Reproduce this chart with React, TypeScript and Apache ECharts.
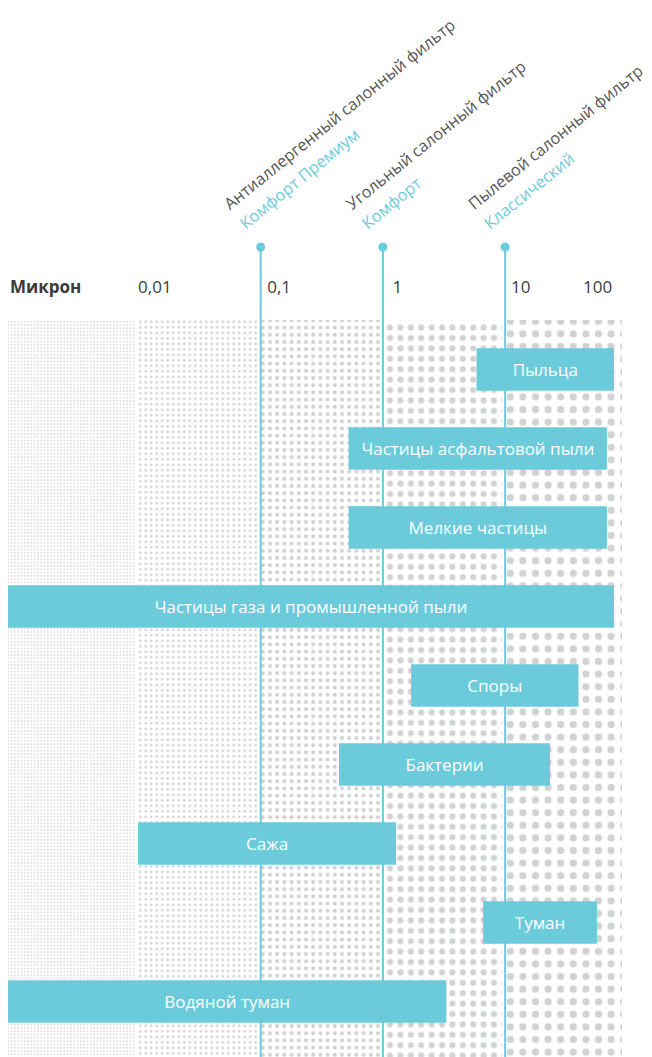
import React, { useEffect, useRef } from "react";
import * as echarts from "echarts";

// Particle size ranges, in microns
const particles = [
  "Пыльца",
  "Частицы асфальтовой пыли",
  "Мелкие частицы",
  "Частицы газа и промышленной пыли",
  "Споры",
  "Бактерии",
  "Сажа",
  "Туман",
  "Водяной туман",
];
const sizeFrom = [6.0, 0.54, 0.54, 0.00088, 1.75, 0.45, 0.0102, 6.8, 0.00088];
const sizeTo = [80, 70, 70, 80, 41, 24, 1.32, 58, 3.4];

// Filters and their cut-off particle size (microns)
const filterNames = [
  "Антиаллергенный салонный фильтр",
  "Угольный салонный фильтр",
  "Пылевой салонный фильтр",
];
const filterModels = ["Комфорт Премиум", "Комфорт", "Классический"];
const filterCutoff = [0.1, 1, 10];

// Decade bands (microns) shown as dotted columns
const bandEdges = [0.00088, 0.01, 0.1, 1, 10, 93];

// Axis tick labels and where they sit (log10 of microns)
const tickLabels = ["Микрон", "0,01", "0,1", "1", "10", "100"];
const tickPos = [-3.039, -1.991, -0.935, 0.09, 1.06, 1.65];

const CYAN = "#6bcbda";
const FONT = "'Open Sans', sans-serif";

const lg = (v: number) => Math.log10(v);

function dotPattern(step: number, r: number, color: string) {
  const c = step / 2;
  const svg =
    `<svg xmlns='http://www.w3.org/2000/svg' width='${step}' height='${step}'>` +
    `<circle cx='${c}' cy='${c}' r='${r}' fill='${color}'/></svg>`;
  return {
    image: "data:image/svg+xml;charset=utf-8," + encodeURIComponent(svg),
    repeat: "repeat",
    imageWidth: step,
    imageHeight: step,
  };
}

const bandPatterns = [
  dotPattern(3.3, 0.85, "#d3d4d6"),
  dotPattern(5.5, 1.4, "#d0d1d3"),
  dotPattern(7.2, 2.0, "#d1d2d4"),
  dotPattern(10.4, 3.0, "#d1d2d4"),
  dotPattern(12.6, 3.6, "#d1d2d4"),
];

export default function App() {
  const ref = useRef<HTMLDivElement>(null);

  useEffect(() => {
    document.body.style.margin = "0";
    const chart = echarts.init(ref.current!, null, { renderer: "svg" });

    const bandData = bandEdges.slice(0, -1).map((e, i) => [lg(e), lg(bandEdges[i + 1])]);
    const filterData = filterCutoff.map((v) => [lg(v)]);
    const barData = particles.map((_, i) => [lg(sizeFrom[i]), lg(sizeTo[i]), i]);

    const option: any = {
      animation: false,
      grid: { left: 8, right: 30, top: 330, bottom: 16 },
      xAxis: {
        type: "value",
        position: "top",
        min: lg(bandEdges[0]),
        max: lg(bandEdges[bandEdges.length - 1]),
        axisLine: { show: false },
        axisTick: { show: false },
        splitLine: { show: false },
        axisLabel: {
          customValues: tickPos,
          formatter: (v: number) => {
            const i = tickPos.findIndex((p) => Math.abs(p - v) < 1e-6);
            if (i < 0) return "";
            return i === 0 ? `{b|${tickLabels[i]}}` : tickLabels[i];
          },
          align: "left",
          verticalAlign: "middle",
          margin: 44,
          color: "#3d3d3d",
          fontSize: 17,
          fontFamily: FONT,
          rich: {
            b: { fontWeight: "bold", fontSize: 17, color: "#3a3a3a", fontFamily: FONT },
          },
        },
      },
      yAxis: {
        type: "category",
        inverse: true,
        data: particles,
        show: false,
      },
      series: [
        {
          type: "custom",
          name: "bands",
          silent: true,
          data: bandData,
          encode: { x: [0, 1] },
          renderItem: (params: any, api: any) => {
            const i = params.dataIndex;
            const cs = params.coordSys;
            const x0 = api.coord([api.value(0), 0])[0];
            const x1 = api.coord([api.value(1), 0])[0];
            const l = i === 0 ? x0 : x0 + 1.5;
            const r = i === bandData.length - 1 ? x1 : x1 - 1.5;
            return {
              type: "rect",
              shape: { x: l, y: cs.y - 10, width: r - l, height: cs.height + 40 },
              style: { fill: bandPatterns[i] },
            };
          },
        },
        {
          type: "custom",
          name: "filters",
          silent: true,
          data: filterData,
          encode: { x: 0 },
          renderItem: (params: any, api: any) => {
            const i = params.dataIndex;
            const cs = params.coordSys;
            const x = api.coord([api.value(0), 0])[0] + 1.5;
            const top = cs.y - 83;
            return {
              type: "group",
              children: [
                {
                  type: "line",
                  shape: { x1: x, y1: top, x2: x, y2: cs.y + cs.height + 40 },
                  style: { stroke: CYAN, lineWidth: 2 },
                },
                {
                  type: "circle",
                  shape: { cx: x, cy: top, r: 4.5 },
                  style: { fill: CYAN },
                },
                {
                  type: "text",
                  x: x - 11,
                  y: top - 12,
                  rotation: (39 * Math.PI) / 180,
                  style: {
                    text: `{a|${filterNames[i]}}\n{b|${filterModels[i]}}`,
                    align: "left",
                    verticalAlign: "bottom",
                    rich: {
                      a: { fill: "#555555", fontSize: 16.3, fontFamily: FONT, lineHeight: 25 },
                      b: { fill: CYAN, fontSize: 16.3, fontFamily: FONT, lineHeight: 25 },
                    },
                  },
                },
              ],
            };
          },
        },
        {
          type: "custom",
          name: "particles",
          data: barData,
          encode: { x: [0, 1], y: 2 },
          renderItem: (params: any, api: any) => {
            const i = params.dataIndex;
            const y = api.value(2);
            const s = api.coord([api.value(0), y]);
            const e = api.coord([api.value(1), y]);
            const h = api.size([0, 1])[1] * 0.535;
            return {
              type: "group",
              children: [
                {
                  type: "rect",
                  shape: { x: s[0], y: s[1] - h / 2, width: e[0] - s[0], height: h },
                  style: { fill: CYAN },
                },
                {
                  type: "text",
                  x: (s[0] + e[0]) / 2,
                  y: s[1],
                  style: {
                    text: particles[i],
                    align: "center",
                    verticalAlign: "middle",
                    fill: "#ffffff",
                    fontSize: 17,
                    fontFamily: FONT,
                  },
                },
              ],
            };
          },
        },
      ],
    };

    chart.setOption(option);
    return () => chart.dispose();
  }, []);

  return <div ref={ref} style={{ width: 652, height: 1057 }} />;
}
